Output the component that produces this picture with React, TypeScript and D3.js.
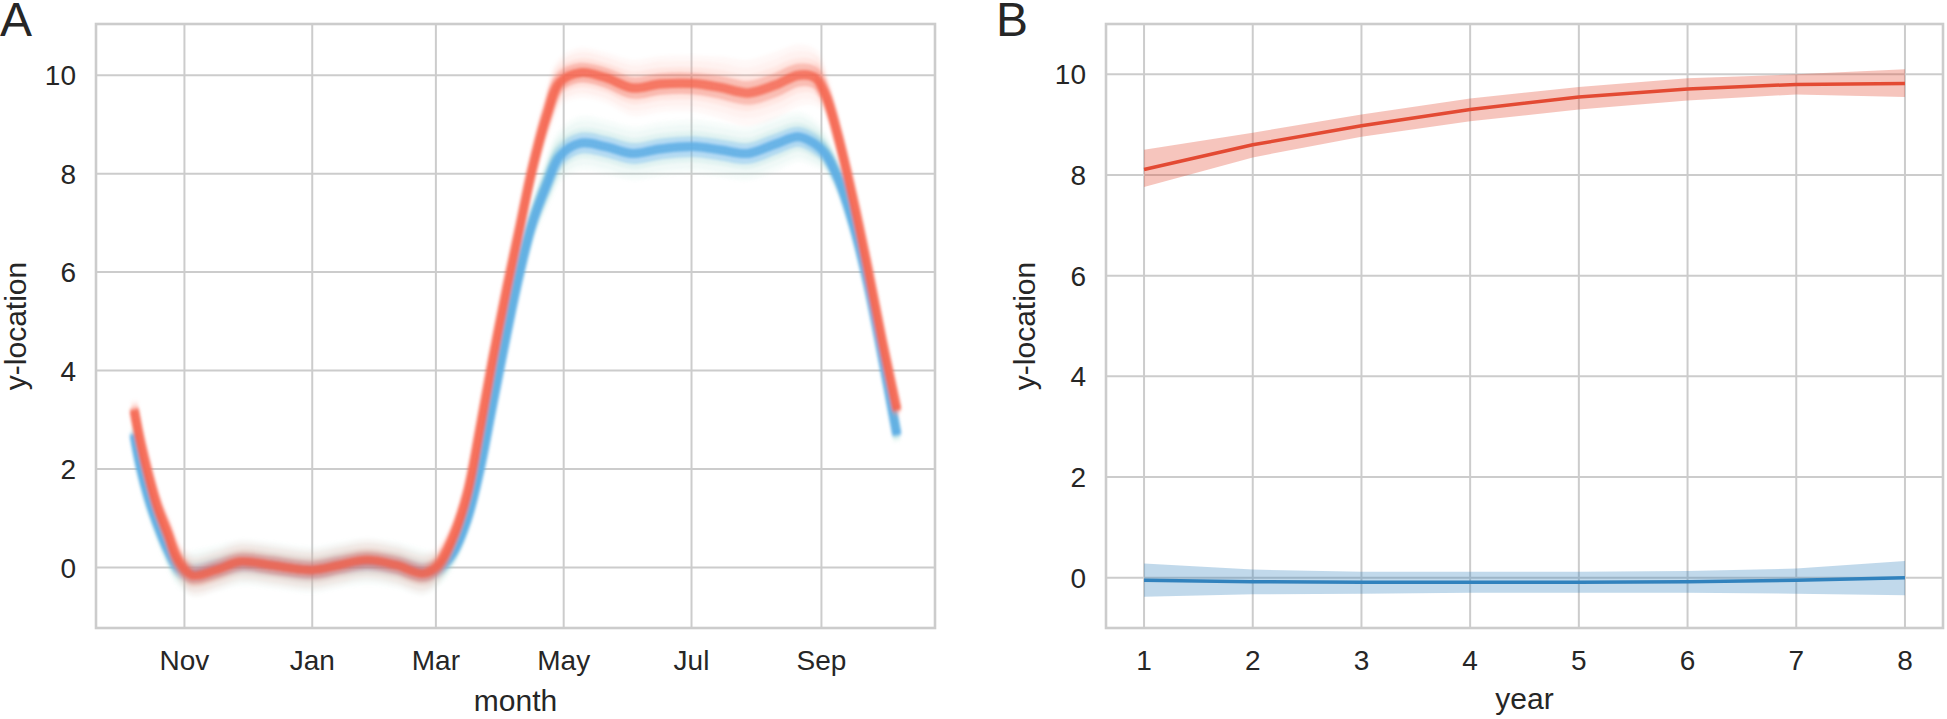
import React from 'react';
import * as d3 from 'd3';

// ---------- Panel A data (seasonal curves, y-location by date) ----------
const monthDates = [
  '2001-10-08', '2001-10-11', '2001-10-15', '2001-10-19', '2001-10-24', '2001-10-29',
  '2001-11-05', '2001-11-16', '2001-11-28', '2001-12-12', '2002-01-01', '2002-01-14',
  '2002-01-27', '2002-02-10', '2002-02-23', '2002-03-02', '2002-03-09', '2002-03-16',
  '2002-03-22', '2002-03-28', '2002-04-04', '2002-04-10', '2002-04-16', '2002-04-23',
  '2002-04-29', '2002-05-09', '2002-05-21', '2002-06-03', '2002-06-16', '2002-07-02',
  '2002-07-15', '2002-07-28', '2002-08-10', '2002-08-21', '2002-08-29', '2002-09-03',
  '2002-09-09', '2002-09-16', '2002-09-23', '2002-09-30', '2002-10-07',
];
const redMean = [
  3.2, 2.55, 1.85, 1.25, 0.7, 0.15,
  -0.16, -0.05, 0.12, 0.05, -0.05, 0.05,
  0.15, 0.05, -0.12, 0.05, 0.6, 1.5,
  2.8, 4.2, 5.7, 6.9, 8.1, 9.2,
  9.85, 10.05, 9.95, 9.74, 9.82, 9.83,
  9.75, 9.64, 9.8, 10.0, 9.95, 9.6,
  8.75, 7.5, 6.1, 4.6, 3.2,
];
const blueMean = [
  2.7, 2.05, 1.4, 0.9, 0.38, 0.0,
  -0.12, -0.02, 0.1, 0.05, -0.05, 0.05,
  0.12, 0.05, -0.1, -0.02, 0.3, 1.0,
  2.0, 3.3, 4.8, 6.0, 7.0, 7.8,
  8.35, 8.62, 8.55, 8.41, 8.5, 8.55,
  8.48, 8.41, 8.6, 8.75, 8.6, 8.4,
  7.9, 7.0, 5.8, 4.3, 2.7,
];
const redSpread = [
  0.1, 0.1, 0.1, 0.1, 0.12, 0.15,
  0.18, 0.18, 0.18, 0.18, 0.18, 0.18,
  0.18, 0.18, 0.18, 0.15, 0.1, 0.08,
  0.08, 0.08, 0.08, 0.08, 0.1, 0.15,
  0.2, 0.22, 0.22, 0.25, 0.25, 0.25,
  0.28, 0.3, 0.3, 0.28, 0.25, 0.15,
  0.1, 0.08, 0.08, 0.08, 0.08,
];
const blueSpread = [
  0.1, 0.1, 0.1, 0.1, 0.12, 0.15,
  0.2, 0.2, 0.2, 0.2, 0.2, 0.2,
  0.2, 0.2, 0.2, 0.15, 0.1, 0.08,
  0.08, 0.08, 0.08, 0.1, 0.12, 0.18,
  0.22, 0.24, 0.24, 0.24, 0.24, 0.24,
  0.24, 0.24, 0.24, 0.22, 0.2, 0.15,
  0.1, 0.08, 0.08, 0.08, 0.08,
];
const yTicks = [0, 2, 4, 6, 8, 10];

// ---------- Panel B data (by year) ----------
const years = [1, 2, 3, 4, 5, 6, 7, 8];
const redYear = [8.11, 8.6, 8.98, 9.3, 9.55, 9.71, 9.8, 9.82];
const redYearLo = [7.76, 8.35, 8.76, 9.07, 9.3, 9.48, 9.6, 9.55];
const redYearHi = [8.5, 8.84, 9.2, 9.52, 9.75, 9.92, 10.0, 10.1];
const blueYear = [-0.05, -0.08, -0.09, -0.09, -0.09, -0.08, -0.05, 0.0];
const blueYearLo = [-0.38, -0.33, -0.32, -0.3, -0.3, -0.3, -0.32, -0.35];
const blueYearHi = [0.28, 0.16, 0.12, 0.12, 0.12, 0.13, 0.18, 0.33];

const TEXT = '#262626';
const GRID = '#cccccc';
const FONT = "'Liberation Sans', Arial, Helvetica, sans-serif";

type Pt = { x: number; y: number };

export default function App() {
  const W = 1947;
  const H = 719;

  // ----- Panel A scales -----
  const A = { l: 96, t: 24, r: 935, b: 628 };
  const dates = monthDates.map((s) => d3.timeParse('%Y-%m-%d')(s) as Date);
  const dMin = dates[0].getTime();
  const dMax = dates[dates.length - 1].getTime();
  const pad = (dMax - dMin) * 0.05;
  const xA = d3.scaleTime().domain([new Date(dMin - pad), new Date(dMax + pad)]).range([A.l, A.r]);
  const yA = d3.scaleLinear().domain([-1.23, 11.04]).range([A.b, A.t]);
  const xTicksA = xA.ticks(d3.timeMonth.every(2) as any);
  const fmtMonth = d3.timeFormat('%b');

  const lineA = d3
    .line<Pt>()
    .x((d) => xA(new Date(d.x)))
    .y((d) => yA(d.y))
    .curve(d3.curveCatmullRom.alpha(0.5));

  const offsets = [-2, -1.5, -1, -0.5, 0, 0.5, 1, 1.5, 2];
  const sampleLines = (mean: number[], spread: number[]) =>
    offsets.map((k) => ({
      k,
      d: lineA(mean.map((v, i) => ({ x: dates[i].getTime(), y: v + k * spread[i] }))) as string,
    }));

  const redLines = sampleLines(redMean, redSpread);
  const blueLines = sampleLines(blueMean, blueSpread);

  // ----- Panel B scales -----
  const B = { l: 1106, t: 24, r: 1943, b: 628 };
  const xB = d3.scaleLinear().domain([0.65, 8.35]).range([B.l, B.r]);
  const yB = d3.scaleLinear().domain([-1, 11]).range([B.b, B.t]);
  const lineB = d3
    .line<number>()
    .x((_, i) => xB(years[i]))
    .y((v) => yB(v));
  const areaB = (lo: number[], hi: number[]) =>
    d3
      .area<number>()
      .x((_, i) => xB(years[i]))
      .y0((_, i) => yB(lo[i]))
      .y1((_, i) => yB(hi[i]))(years) as string;

  const grid = (
    x: (v: any) => number,
    y: (v: number) => number,
    xt: any[],
    box: { l: number; t: number; r: number; b: number }
  ) => (
    <g>
      {xt.map((v, i) => (
        <line key={'gx' + i} x1={x(v)} x2={x(v)} y1={box.t} y2={box.b} stroke={GRID} strokeWidth={2} />
      ))}
      {yTicks.map((v) => (
        <line key={'gy' + v} x1={box.l} x2={box.r} y1={y(v)} y2={y(v)} stroke={GRID} strokeWidth={2} />
      ))}
    </g>
  );

  const frame = (box: { l: number; t: number; r: number; b: number }) => (
    <rect x={box.l} y={box.t} width={box.r - box.l} height={box.b - box.t} fill="none" stroke={GRID} strokeWidth={2.6} />
  );

  const yTickLabels = (y: (v: number) => number, box: { l: number }) =>
    yTicks.map((v) => (
      <text key={'yl' + v} x={box.l - 20} y={y(v)} dy="0.36em" textAnchor="end" fontSize={28} fill={TEXT}>
        {v}
      </text>
    ));

  const opacityFor = (k: number) =>
    Math.abs(k) === 0 ? 0.55 : Math.abs(k) <= 0.5 ? 0.42 : Math.abs(k) <= 1 ? 0.24 : Math.abs(k) <= 1.5 ? 0.13 : 0.07;

  return (
    <svg
      width={W}
      height={H}
      style={{ position: 'absolute', left: 0, top: 0, background: '#ffffff' }}
      fontFamily={FONT}
    >
      <defs>
        <filter id="soft" x="-5%" y="-5%" width="110%" height="110%">
          <feGaussianBlur stdDeviation="1.5" />
        </filter>
        <clipPath id="clipA">
          <rect x={A.l} y={A.t} width={A.r - A.l} height={A.b - A.t} />
        </clipPath>
      </defs>
      <rect x={0} y={0} width={W} height={H} fill="#ffffff" />

      {/* ================= Panel A ================= */}
      {grid(xA, yA, xTicksA, A)}
      <g clipPath="url(#clipA)">
        <g filter="url(#soft)">
          {blueLines.map((l) => (
            <path
              key={'b' + l.k}
              d={l.d}
              fill="none"
              stroke={Math.abs(l.k) >= 1 ? '#8fd0cc' : '#5aaee6'}
              strokeWidth={Math.abs(l.k) >= 1 ? 7 : 9}
              strokeOpacity={opacityFor(l.k)}
            />
          ))}
          <path d={blueLines[4].d} fill="none" stroke="#5cace4" strokeWidth={9} strokeOpacity={0.75} />
          {redLines.map((l) => (
            <path
              key={'r' + l.k}
              d={l.d}
              fill="none"
              stroke={Math.abs(l.k) >= 1 ? '#ff9a8c' : '#f2654f'}
              strokeWidth={Math.abs(l.k) >= 1 ? 7 : 9}
              strokeOpacity={opacityFor(l.k)}
            />
          ))}
          <path d={redLines[4].d} fill="none" stroke="#f46650" strokeWidth={9} strokeOpacity={0.68} />
        </g>
      </g>
      {frame(A)}
      {yTickLabels(yA, A)}
      {xTicksA.map((t, i) => (
        <text key={'xa' + i} x={xA(t)} y={670} textAnchor="middle" fontSize={28} fill={TEXT}>
          {fmtMonth(t)}
        </text>
      ))}
      <text x={(A.l + A.r) / 2} y={711} textAnchor="middle" fontSize={30} fill={TEXT}>
        month
      </text>
      <text transform={`translate(26, ${(A.t + A.b) / 2}) rotate(-90)`} textAnchor="middle" fontSize={30} fill={TEXT}>
        y-location
      </text>
      <text x={0} y={36} fontSize={48} fill={TEXT}>
        A
      </text>

      {/* ================= Panel B ================= */}
      {grid(xB, yB, years, B)}
      <path d={areaB(redYearLo, redYearHi)} fill="#e34a33" fillOpacity={0.32} />
      <path d={lineB(redYear) as string} fill="none" stroke="#e34a33" strokeWidth={3.5} />
      <path d={areaB(blueYearLo, blueYearHi)} fill="#3182bd" fillOpacity={0.3} />
      <path d={lineB(blueYear) as string} fill="none" stroke="#3182bd" strokeWidth={3.5} />
      {frame(B)}
      {yTickLabels(yB, B)}
      {years.map((v) => (
        <text key={'xb' + v} x={xB(v)} y={670} textAnchor="middle" fontSize={28} fill={TEXT}>
          {v}
        </text>
      ))}
      <text x={(B.l + B.r) / 2} y={709} textAnchor="middle" fontSize={30} fill={TEXT}>
        year
      </text>
      <text transform={`translate(1035, ${(B.t + B.b) / 2}) rotate(-90)`} textAnchor="middle" fontSize={30} fill={TEXT}>
        y-location
      </text>
      <text x={996} y={36} fontSize={48} fill={TEXT}>
        B
      </text>
    </svg>
  );
}
